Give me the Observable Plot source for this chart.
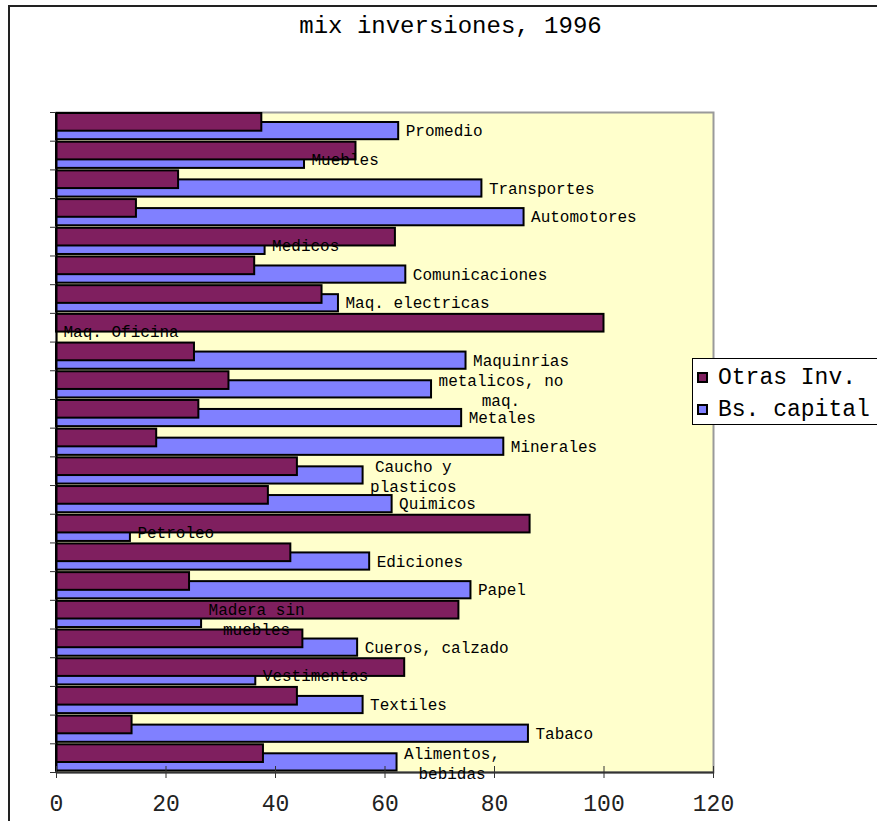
<!DOCTYPE html>
<html>
<head>
<meta charset="utf-8">
<script src="https://cdn.jsdelivr.net/npm/d3@7"></script>
<script src="https://cdn.jsdelivr.net/npm/@observablehq/plot@0.6"></script>
<style>
  html, body { margin: 0; padding: 0; background: #fff; overflow: hidden; }
  #wrap { position: relative; width: 877px; height: 821px; overflow: hidden; font-family: "Liberation Mono", monospace; }
  #border { position: absolute; left: 8px; top: 5px; width: 1000px; height: 1000px; border-left: 2px solid #222; border-top: 2px solid #222; box-sizing: border-box; }
  #chart { position: absolute; left: 0; top: 0; }
  #legend { position: absolute; left: 692px; top: 358px; width: 200px; height: 67px; border: 1px solid #000; background: #fff; box-sizing: border-box; }
  .item { position: absolute; left: 4px; height: 24px; line-height: 24px; font-size: 23px; color: #000; white-space: nowrap; }
  .sw { position: absolute; left: 0; top: 6px; width: 11px; height: 11px; border: 2px solid #000; box-sizing: border-box; }
  .lt { position: absolute; left: 21px; top: 0; }
</style>
</head>
<body>
<div id="wrap">
  <div id="border"></div>
  <div id="chart"></div>
  <div id="legend">
    <div class="item" style="top:7px"><span class="sw" style="background:#7F1F5F"></span><span class="lt">Otras Inv.</span></div>
    <div class="item" style="top:39px"><span class="sw" style="background:#8080FF"></span><span class="lt">Bs. capital</span></div>
  </div>
</div>
<script>
const title = "mix inversiones, 1996";
// categories top to bottom
const categories = ["Promedio","Muebles","Transportes","Automotores","Medicos","Comunicaciones","Maq. electricas","Maq. Oficina","Maquinrias","metalicos, no maq.","Metales","Minerales","Caucho y plasticos","Quimicos","Petroleo","Ediciones","Papel","Madera sin muebles","Cueros, calzado","Vestimentas","Textiles","Tabaco","Alimentos, bebidas"];
const labels = ["Promedio","Muebles","Transportes","Automotores","Medicos","Comunicaciones","Maq. electricas","Maq. Oficina","Maquinrias","metalicos, no\nmaq.","Metales","Minerales","Caucho y\nplasticos","Quimicos","Petroleo","Ediciones","Papel","Madera sin\nmuebles","Cueros, calzado","Vestimentas","Textiles","Tabaco","Alimentos,\nbebidas"];
const otrasInv = [37.5, 54.7, 22.3, 14.6, 61.9, 36.2, 48.5, 100, 25.2, 31.5, 26.0, 18.3, 44.0, 38.7, 86.5, 42.8, 24.3, 73.5, 45.0, 63.6, 44.0, 13.8, 37.8];
const bsCapital = [62.5, 45.3, 77.7, 85.4, 38.1, 63.8, 51.5, 0, 74.8, 68.5, 74.0, 81.7, 56.0, 61.3, 13.5, 57.2, 75.7, 26.5, 55.0, 36.4, 56.0, 86.2, 62.2];
const xTicks = [0, 20, 40, 60, 80, 100, 120];

const W = 877, H = 821, mL = 56, mR = 164, mT = 112, mB = 49;
const bw = (H - mT - mB) / categories.length;
const labelDy = 4.25;
const pitch = 16 * 0.6;

const data = categories.map((c, i) => ({cat: c, label: labels[i], otras: otrasInv[i], capital: bsCapital[i]}));
const single = data.filter(d => !d.label.includes("\n"));
const multi = data.filter(d => d.label.includes("\n"));

const multiMarks = multi.map(d => {
  const maxLen = d3.max(d.label.split("\n"), s => s.length);
  return Plot.text([d], {x: "capital", y: "cat", text: "label", textAnchor: "middle", lineAnchor: "middle",
    dx: 7 + maxLen * pitch / 2, dy: labelDy, fontSize: 16, lineHeight: 1.25, fill: "#000"});
});

const chart = Plot.plot({
  width: W, height: H,
  marginLeft: mL, marginRight: mR, marginTop: mT, marginBottom: mB,
  style: {fontFamily: "'Liberation Mono', monospace", background: "transparent", overflow: "visible"},
  x: {domain: [0, 120]},
  y: {domain: categories, padding: 0, round: false, axis: null},
  marks: [
    Plot.frame({fill: "#FFFFCC", stroke: "#9a9a9a", strokeWidth: 2}),
    Plot.barX(data, {y: "cat", x1: 0, x2: "capital", fill: "#8080FF", stroke: "#000", strokeWidth: 2, insetTop: 10, insetBottom: 1.5}),
    Plot.barX(data, {y: "cat", x1: 0, x2: "otras", fill: "#7F1F5F", stroke: "#000", strokeWidth: 2, insetTop: 1, insetBottom: 10}),
    Plot.ruleX([0], {stroke: "#000", strokeWidth: 2}),
    Plot.ruleY([categories[categories.length - 1]], {dy: bw / 2, stroke: "#333", strokeWidth: 2}),
    Plot.axisY({tickSize: 6, dy: -bw / 2, tickFormat: () => "", label: null, stroke: "#333"}),
    Plot.axisY({ticks: [categories[categories.length - 1]], tickSize: 6, dy: bw / 2, tickFormat: () => "", label: null, stroke: "#333"}),
    Plot.axisX({ticks: xTicks, tickSize: 12, dy: -6, tickFormat: () => "", label: null, stroke: "#333"}),
    Plot.axisX({ticks: xTicks, tickSize: 0, tickPadding: 22, fontSize: 23, label: null, fill: "#222"}),
    Plot.text(single, {x: "capital", y: "cat", text: "label", textAnchor: "start", dx: 7, dy: labelDy, fontSize: 16, fill: "#000"}),
    ...multiMarks,
    Plot.text([title], {text: d => d, frameAnchor: "top", dx: 450 - (mL + (W - mL - mR) / 2), dy: 15 - mT, fontSize: 24, fill: "#000"})
  ]
});
document.getElementById("chart").appendChild(chart);
</script>
</body>
</html>
